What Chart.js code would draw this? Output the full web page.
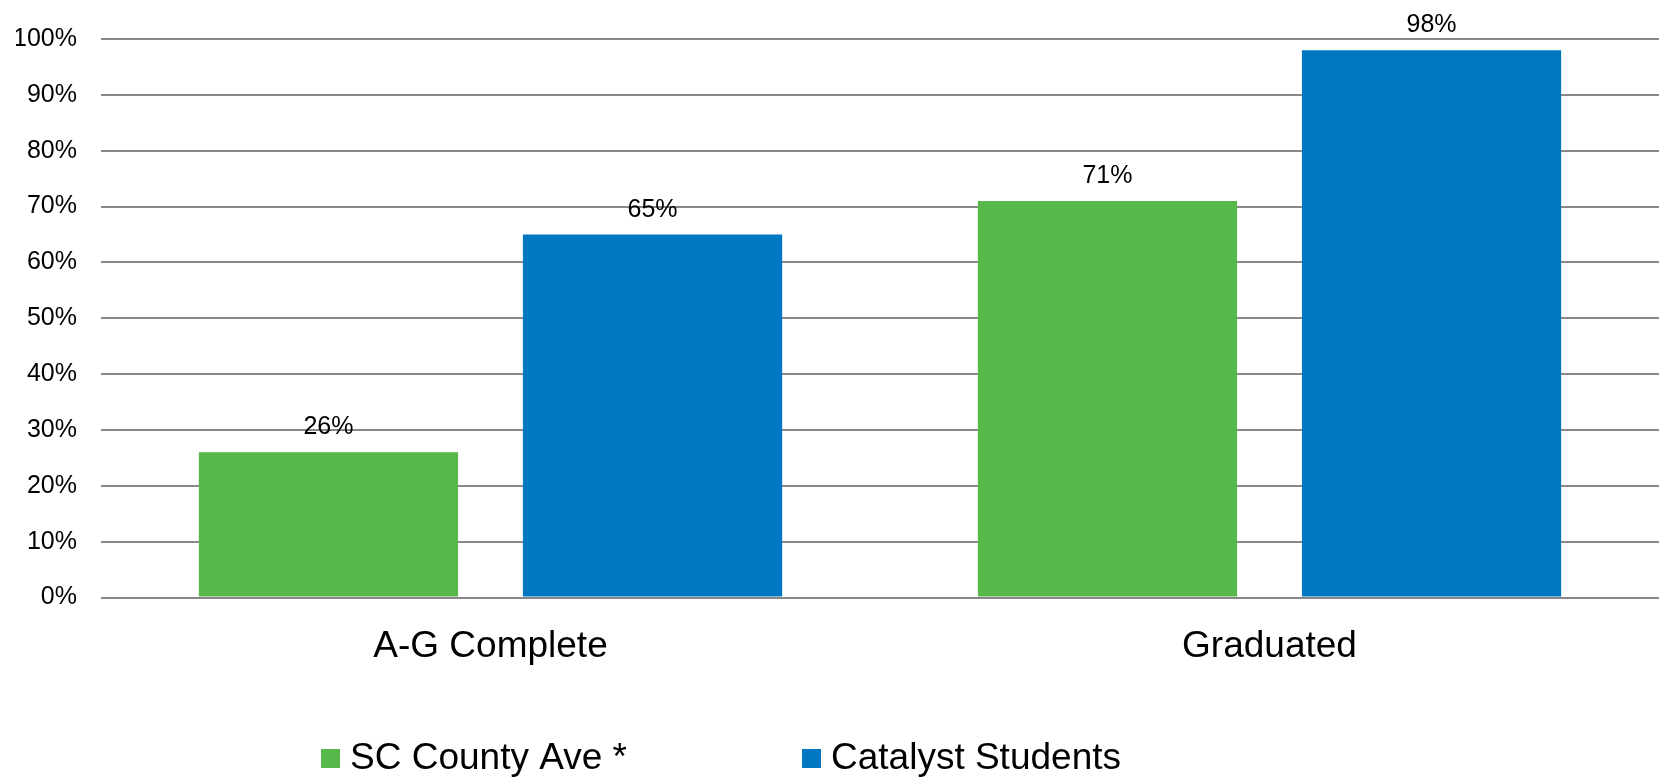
<!DOCTYPE html>
<html>
<head>
<meta charset="utf-8">
<script src="https://cdn.jsdelivr.net/npm/chart.js@4/dist/chart.umd.min.js"></script>
<style>
  html, body { margin: 0; padding: 0; background: #fff; }
  #wrap { width: 1659px; height: 778px; }
</style>
</head>
<body>
<div id="wrap"><canvas id="stats"></canvas></div>
<script>
// data
var categories = ["A-G Complete", "Graduated"];
var seriesNames = ["SC County Ave *", "Catalyst Students"];
var countyAve = [26, 71];
var catalyst = [65, 98];
var yTicks = [0, 10, 20, 30, 40, 50, 60, 70, 80, 90, 100];

var FONT = "'Liberation Sans', Arial, sans-serif";
var colors = ["#57b84a", "#0078c1"];

// value labels above each bar
var barLabels = {
  id: "barLabels",
  afterDatasetsDraw: function (chart) {
    var ctx = chart.ctx;
    ctx.save();
    ctx.font = "25px " + FONT;
    ctx.fillStyle = "#000";
    ctx.textAlign = "center";
    ctx.textBaseline = "alphabetic";
    chart.data.datasets.forEach(function (ds, i) {
      chart.getDatasetMeta(i).data.forEach(function (bar, j) {
        ctx.fillText(ds.data[j] + "%", bar.x, bar.y - 18);
      });
    });
    ctx.restore();
  }
};

// legend laid out like the original (fixed columns)
var legendCols = [321, 802];
var boxLegend = {
  id: "boxLegend",
  afterDraw: function (chart) {
    var ctx = chart.ctx;
    ctx.save();
    ctx.font = "37px " + FONT;
    ctx.textBaseline = "alphabetic";
    ctx.textAlign = "left";
    chart.data.datasets.forEach(function (ds, i) {
      var x = legendCols[i];
      ctx.fillStyle = ds.backgroundColor;
      ctx.fillRect(x, 749, 19, 19);
      ctx.fillStyle = "#000";
      ctx.fillText(ds.label, x + 29, 769);
    });
    ctx.restore();
  }
};

new Chart("stats", {
  type: "bar",
  data: {
    labels: categories,
    datasets: [{
      label: seriesNames[0],
      backgroundColor: colors[0],
      data: countyAve
    }, {
      label: seriesNames[1],
      backgroundColor: colors[1],
      data: catalyst
    }]
  },
  options: {
    responsive: true,
    maintainAspectRatio: false,
    animation: false,
    datasets: {
      bar: { barPercentage: 0.8, categoryPercentage: 0.832 }
    },
    layout: { padding: { top: 35, left: 16, right: 0, bottom: 82 } },
    plugins: {
      legend: { display: false },
      tooltip: { enabled: false }
    },
    scales: {
      x: {
        grid: { display: false, drawTicks: false },
        border: { display: false },
        ticks: { color: "#000", font: { family: FONT, size: 37 }, padding: 27 }
      },
      y: {
        min: 0,
        max: 100,
        afterFit: function (scale) { scale.width = 85; },
        afterBuildTicks: function (scale) {
          scale.ticks = yTicks.map(function (v) { return { value: v }; });
        },
        grid: { color: "#888888", lineWidth: 2, drawTicks: false },
        border: { display: false },
        ticks: {
          color: "#000",
          font: { family: FONT, size: 25 },
          padding: 24,
          callback: function (v) { return v + "%"; }
        }
      }
    }
  },
  plugins: [barLabels, boxLegend]
});
</script>
</body>
</html>
